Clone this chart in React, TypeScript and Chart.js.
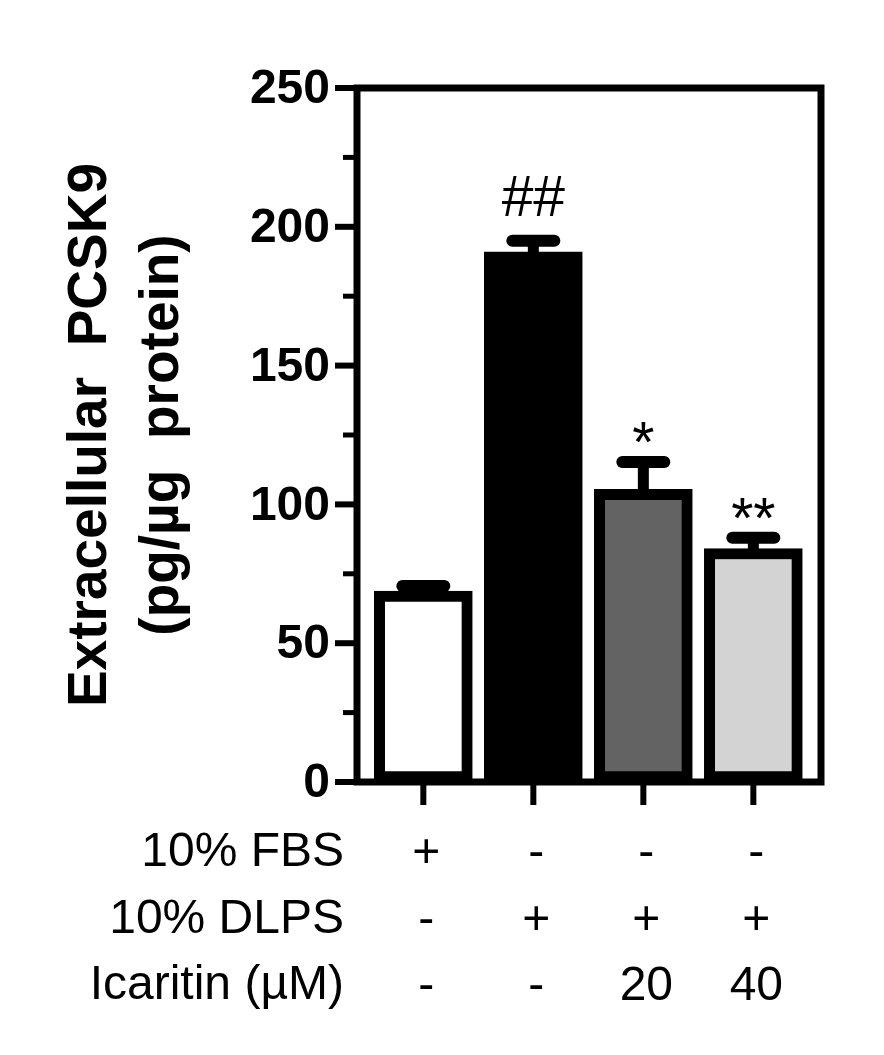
import React, { useEffect, useRef } from "react";
import { Chart, registerables } from "chart.js";
import type { Plugin } from "chart.js";

Chart.register(...registerables);

const groups = [1, 2, 3, 4];
const extracellularPcsk9 = [68.8, 191, 105.4, 84.1];
const errorTops = [70.6, 195, 115.3, 88];
const barFills = ["#ffffff", "#000000", "#636363", "#d3d3d3"];
const significance = ["", "##", "*", "**"];

const rowNames = ["10% FBS", "10% DLPS", "Icaritin (µM)"];
const fbsRow = ["+", "-", "-", "-"];
const dlpsRow = ["-", "+", "+", "+"];
const icaritinRow = ["-", "-", "20", "40"];

const yTicks = [0, 25, 50, 75, 100, 125, 150, 175, 200, 225, 250];
const yTitle = ["Extracellular  PCSK9", "(pg/µg  protein)"];

const FONT = "'Liberation Sans', Arial, sans-serif";

// error bars, axis ticks, frame and the labels Chart.js has no option for
const overlay: Plugin<"bar"> = {
  id: "overlay",
  afterDatasetsDraw(chart) {
    const { ctx } = chart;
    const x = chart.scales.x;
    const y = chart.scales.y;
    ctx.save();
    ctx.strokeStyle = "#000";
    groups.forEach((g, i) => {
      const px = x.getPixelForValue(g);
      const top = y.getPixelForValue(errorTops[i]);
      const base = y.getPixelForValue(extracellularPcsk9[i]);
      ctx.lineCap = "butt";
      ctx.lineWidth = 11;
      ctx.beginPath();
      ctx.moveTo(px, base + 2);
      ctx.lineTo(px, top);
      ctx.stroke();
      ctx.lineCap = "round";
      ctx.lineWidth = 12;
      ctx.beginPath();
      ctx.moveTo(px - 21, top);
      ctx.lineTo(px + 21, top);
      ctx.stroke();

      const mark = significance[i];
      if (mark) {
        ctx.fillStyle = "#000";
        ctx.textAlign = "center";
        ctx.textBaseline = "alphabetic";
        ctx.font = `57px ${FONT}`;
        ctx.fillText(mark, px, top - (mark === "##" ? 25 : 0));
      }
    });
    ctx.restore();
  },
  afterDraw(chart) {
    const { ctx, chartArea } = chart;
    const x = chart.scales.x;
    const y = chart.scales.y;
    ctx.save();
    ctx.strokeStyle = "#000";
    ctx.lineCap = "butt";

    yTicks.forEach((t) => {
      const major = t % 50 === 0;
      const py = y.getPixelForValue(t);
      ctx.lineWidth = major ? 6 : 5;
      ctx.beginPath();
      ctx.moveTo(chartArea.left, py);
      ctx.lineTo(chartArea.left - (major ? 22 : 14), py);
      ctx.stroke();
    });
    groups.forEach((g) => {
      const px = x.getPixelForValue(g);
      ctx.lineWidth = 6;
      ctx.beginPath();
      ctx.moveTo(px, chartArea.bottom);
      ctx.lineTo(px, chartArea.bottom + 23);
      ctx.stroke();
    });

    ctx.lineWidth = 7;
    ctx.strokeRect(
      chartArea.left,
      chartArea.top,
      chartArea.right - chartArea.left,
      chartArea.bottom - chartArea.top
    );

    ctx.fillStyle = "#000";
    ctx.textAlign = "right";
    ctx.textBaseline = "alphabetic";
    ctx.font = `48px ${FONT}`;
    rowNames.forEach((name, i) => {
      ctx.fillText(name, chartArea.left - 13, chartArea.bottom + 84 + i * 66.5);
    });
    ctx.restore();
  },
};

export default function App() {
  const chartRef = useRef<HTMLCanvasElement | null>(null);

  useEffect(() => {
    if (!chartRef.current) return;

    const chart = new Chart(chartRef.current, {
      type: "bar",
      data: {
        datasets: [
          {
            data: groups.map((g, i) => ({ x: g, y: extracellularPcsk9[i] })),
            backgroundColor: barFills,
            borderColor: "#000",
            borderWidth: 11,
            borderSkipped: false,
            barThickness: 98,
          },
        ],
      },
      options: {
        animation: false,
        responsive: false,
        devicePixelRatio: 1,
        layout: { padding: { top: 88, right: 63, left: 0, bottom: 0 } },
        plugins: {
          legend: { display: false },
          tooltip: { enabled: false },
        },
        scales: {
          x: {
            type: "linear",
            offset: false,
            min: 0.397,
            max: 4.615,
            grid: { display: false, drawTicks: false },
            border: { display: false },
            afterBuildTicks: (scale) => {
              scale.ticks = groups.map((value) => ({ value }));
            },
            afterFit: (scale) => {
              scale.height = 273;
            },
            ticks: {
              autoSkip: false,
              maxRotation: 0,
              padding: 39,
              labelOffset: 3,
              color: "#000",
              font: { family: FONT, size: 48, lineHeight: 1.385 },
              callback: (_v, i) => [fbsRow[i], dlpsRow[i], icaritinRow[i]],
            },
          },
          y: {
            min: 0,
            max: 250,
            grid: { display: false, drawTicks: false },
            border: { display: false },
            afterBuildTicks: (scale) => {
              scale.ticks = yTicks.map((value) => ({ value }));
            },
            afterFit: (scale) => {
              scale.width = 357;
            },
            title: {
              display: true,
              text: yTitle,
              color: "#000",
              font: { family: FONT, size: 55, weight: "bold", lineHeight: 1.31 },
              padding: { top: 55, bottom: 0 },
            },
            ticks: {
              autoSkip: false,
              padding: 27,
              labelOffset: 2,
              color: "#000",
              font: { family: FONT, size: 48, weight: "bold" },
              callback: (v) => (Number(v) % 50 === 0 ? String(v) : ""),
            },
          },
        },
      },
      plugins: [overlay],
    });

    return () => chart.destroy();
  }, []);

  return (
    <div style={{ position: "absolute", left: 0, top: 0, width: 884, height: 1055 }}>
      <canvas ref={chartRef} width={884} height={1055} style={{ display: "block" }} />
    </div>
  );
}
